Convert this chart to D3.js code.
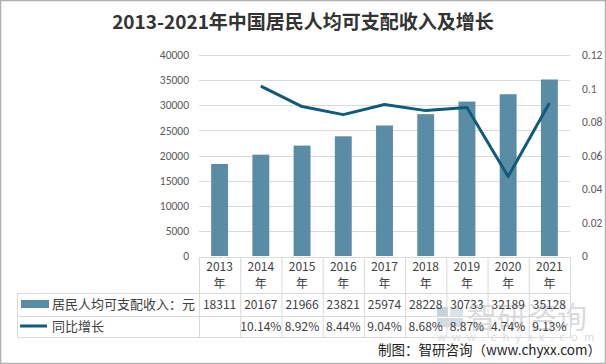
<!DOCTYPE html>
<html><head><meta charset="utf-8">
<script src="https://cdn.jsdelivr.net/npm/d3@7"></script>
<style>body{margin:0;background:#fff;}svg{display:block;font-family:"Microsoft YaHei","Noto Sans CJK SC",sans-serif;}</style>
</head><body><svg id="c" width="606" height="364"></svg>
<script>
const years = ["2013","2014","2015","2016","2017","2018","2019","2020","2021"];
const income = [18311,20167,21966,23821,25974,28228,30733,32189,35128];
const growth = [null,0.1014,0.0892,0.0844,0.0904,0.0868,0.0887,0.0474,0.0913];
const growthLabels = ["","10.14%","8.92%","8.44%","9.04%","8.68%","8.87%","4.74%","9.13%"];
const leftTicks = [0,5000,10000,15000,20000,25000,30000,35000,40000];
const rightTicks = [0,0.02,0.04,0.06,0.08,0.1,0.12];
const seriesNames = ["居民人均可支配收入：元","同比增长"];

const svg = d3.select("#c");
const barColor = "#5b8ca6", lineColor = "#0e5b7b", gridColor = "#d9d9d9", txt = "#595959";
svg.append("rect").attr("x",0.5).attr("y",0.5).attr("width",605).attr("height",363).attr("fill","none").attr("stroke","#b0b0b0").attr("stroke-width",1.5);

svg.append("text").attr("x",303).attr("y",29).attr("text-anchor","middle")
  .attr("font-size",19).attr("font-weight","bold").attr("fill","#333").text("2013-2021年中国居民人均可支配收入及增长");

const x0 = 199, x1 = 570, yTop = 55, yBot = 256;
const x = d3.scaleBand().domain(years).range([x0,x1]).paddingInner(0.59).paddingOuter(0.295);
const xc = d3.scaleBand().domain(years).range([x0,x1]);
const yL = d3.scaleLinear().domain([0,40000]).range([yBot,yTop]);
const yR = d3.scaleLinear().domain([0,0.12]).range([yBot,yTop]);

svg.append("g").selectAll("line").data(leftTicks.filter(d=>d>0)).join("line")
  .attr("x1",x0).attr("x2",x1).attr("y1",d=>Math.round(yL(d))+0.5).attr("y2",d=>Math.round(yL(d))+0.5)
  .attr("stroke",gridColor).attr("stroke-width",1);

const axL = svg.append("g").attr("transform",`translate(${x0-10},0)`)
  .call(d3.axisLeft(yL).tickValues(leftTicks).tickSize(0).tickPadding(0).tickFormat(d3.format("d")));
axL.select(".domain").remove();
axL.selectAll("text").attr("fill",txt).attr("font-size",11.5).attr("font-family","Calibri,'Liberation Sans',sans-serif");
const axR = svg.append("g").attr("transform",`translate(${x1+12},0)`)
  .call(d3.axisRight(yR).tickValues(rightTicks).tickSize(0).tickPadding(0).tickFormat(d=>d===0?"0":String(+d.toFixed(2))));
axR.select(".domain").remove();
axR.selectAll("text").attr("fill",txt).attr("font-size",11.5).attr("font-family","Calibri,'Liberation Sans',sans-serif");

// watermark
const wm = svg.append("g").attr("opacity",0.5);
wm.append("rect").attr("x",437).attr("y",307).attr("width",11).attr("height",9).attr("fill","#8ea6bf");
wm.append("rect").attr("x",450).attr("y",307).attr("width",13).attr("height",9).attr("fill","#b9c6d3");
wm.append("rect").attr("x",437).attr("y",318).attr("width",26).attr("height",9).attr("fill","#a7b6c6");
wm.append("text").attr("x",467).attr("y",328).attr("font-size",30).attr("fill","#b5b9bd").text("智研咨询");
wm.append("text").attr("x",437).attr("y",341).attr("font-size",11).attr("letter-spacing",6.2).attr("fill","#b5b9bd").text("www.chyxx.com");

svg.append("g").selectAll("rect").data(years).join("rect")
  .attr("x",d=>x(d)).attr("width",x.bandwidth())
  .attr("y",(d,i)=>yL(income[i])).attr("height",(d,i)=>yBot-yL(income[i]))
  .attr("fill",barColor);

const pts = years.map((d,i)=>({x:xc(d)+xc.bandwidth()/2, v:growth[i]})).filter(p=>p.v!==null);
svg.append("path").datum(pts).attr("fill","none").attr("stroke",lineColor).attr("stroke-width",3).attr("stroke-linejoin","round")
  .attr("d",d3.line().x(p=>p.x).y(p=>yR(p.v)));

const tTop = 257, hBot = 293, r1Bot = 316, r2Bot = 337, tLeft = 17;
const tg = svg.append("g");
const hl = (xa,xb,y)=>tg.append("line").attr("x1",xa).attr("x2",xb).attr("y1",y+0.5).attr("y2",y+0.5).attr("stroke",gridColor);
const vl = (xx,ya,yb)=>tg.append("line").attr("x1",xx+0.5).attr("x2",xx+0.5).attr("y1",ya).attr("y2",yb).attr("stroke",gridColor);
hl(x0,x1,tTop); hl(tLeft,x1,hBot); hl(tLeft,x1,r1Bot); hl(tLeft,x1,r2Bot);
vl(tLeft,hBot,r2Bot+1);
years.forEach(d=>vl(xc(d),tTop,r2Bot+1));
vl(x1,tTop,r2Bot+1);
const tfs = 12, tcol = "#404040";
years.forEach((d,i)=>{
  const cx = xc(d)+xc.bandwidth()/2;
  tg.append("text").attr("x",cx).attr("y",271).attr("text-anchor","middle").attr("font-size",tfs).attr("fill",tcol).text(d);
  tg.append("text").attr("x",cx).attr("y",288).attr("text-anchor","middle").attr("font-size",tfs).attr("fill",tcol).text("年");
  tg.append("text").attr("x",cx).attr("y",309).attr("text-anchor","middle").attr("font-size",tfs).attr("fill",tcol).text(income[i]);
  tg.append("text").attr("x",cx).attr("y",331).attr("text-anchor","middle").attr("font-size",tfs).attr("fill",tcol).text(growthLabels[i]);
});
tg.append("rect").attr("x",21).attr("y",300).attr("width",28).attr("height",8).attr("fill",barColor);
tg.append("line").attr("x1",20).attr("x2",47).attr("y1",326).attr("y2",326).attr("stroke",lineColor).attr("stroke-width",3);
tg.append("text").attr("x",52).attr("y",309).attr("font-size",13).attr("fill",tcol).text(seriesNames[0]);
tg.append("text").attr("x",52).attr("y",331).attr("font-size",13).attr("fill",tcol).text(seriesNames[1]);

svg.append("text").attr("x",601).attr("y",355).attr("text-anchor","end").attr("font-size",13.5).attr("fill","#222").text("制图：智研咨询（www.chyxx.com）");
</script></body></html>
